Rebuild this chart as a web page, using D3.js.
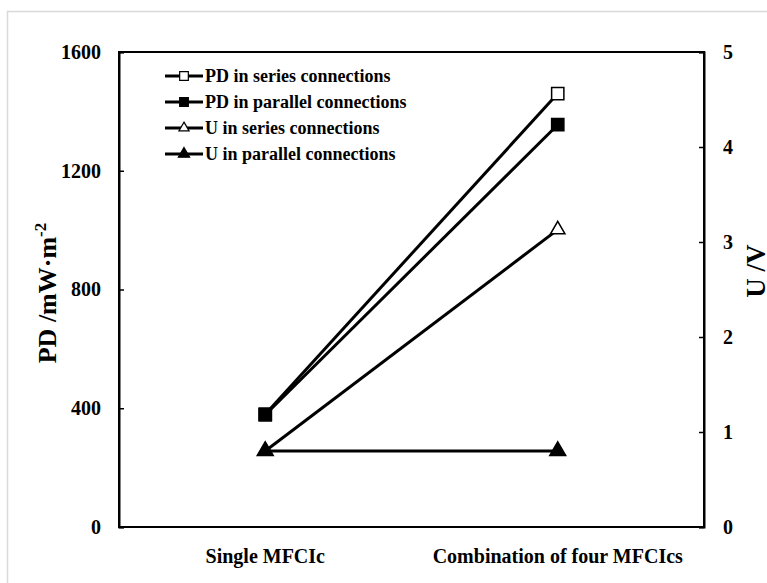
<!DOCTYPE html>
<html>
<head>
<script src="https://cdn.jsdelivr.net/npm/d3@7"></script>
<style>
  body { margin: 0; background: #fff; }
  text { font-family: "Liberation Serif", "Times New Roman", serif; font-weight: bold; }
</style>
</head>
<body>
<div id="viz"></div>
<script>
// data
var categories = ["Single MFCIc", "Combination of four MFCIcs"];
var pdSeries = [380, 1460];
var pdParallel = [378, 1355];
var uSeries = [0.8, 3.13];
var uParallel = [0.8, 0.8];
var leftTicks = [0, 400, 800, 1200, 1600];
var rightTicks = [0, 1, 2, 3, 4, 5];

var W = 767, H = 583;
var pL = 119, pR = 704, pT = 52, pB = 527;

var svg = d3.select("#viz").append("svg")
  .attr("width", W)
  .attr("height", H);

// outer chart frame
svg.append("rect")
  .attr("x", 7.5).attr("y", 11.5)
  .attr("width", W).attr("height", H)
  .style("fill", "none")
  .style("stroke", "#d9d9d9")
  .style("stroke-width", 1.5);

var x = d3.scalePoint().domain(categories).range([pL, pR]).padding(0.5);
var yL = d3.scaleLinear().domain([0, 1600]).range([pB, pT]);
var yR = d3.scaleLinear().domain([0, 5]).range([pB, pT]);

// plot box
svg.append("rect")
  .attr("x", pL).attr("y", pT)
  .attr("width", pR - pL).attr("height", pB - pT)
  .style("fill", "none")
  .style("stroke", "black")
  .style("stroke-width", 2);

var axL = svg.append("g")
  .attr("transform", "translate(" + pL + ",0)")
  .call(d3.axisLeft(yL).tickValues(leftTicks).tickSize(-5).tickPadding(18).tickFormat(d3.format("d")));
var axR = svg.append("g")
  .attr("transform", "translate(" + pR + ",0)")
  .call(d3.axisRight(yR).tickValues(rightTicks).tickSize(-5).tickPadding(19).tickFormat(d3.format("d")));
[axL, axR].forEach(function(a) {
  a.select(".domain").style("stroke", "black").style("stroke-width", 2);
  a.selectAll(".tick line").style("stroke", "black").style("stroke-width", 1.5);
  a.selectAll(".tick text")
    .style("font-family", "Liberation Serif")
    .style("font-weight", "bold")
    .style("font-size", "20px")
    .attr("fill", "black");
});

// category labels
svg.selectAll(".cat").data(categories).enter().append("text")
  .attr("class", "cat")
  .attr("x", function(d) { return x(d); })
  .attr("y", 563)
  .style("text-anchor", "middle")
  .style("font-size", "20px")
  .text(function(d) { return d; });

// axis titles
svg.append("text")
  .attr("transform", "translate(56,293) rotate(-90)")
  .style("text-anchor", "middle")
  .style("font-size", "26px")
  .html('PD /mW\u00b7m<tspan dy="-10" font-size="17px">-2</tspan>');
svg.append("text")
  .attr("transform", "translate(765,271) rotate(-90)")
  .style("text-anchor", "middle")
  .style("font-size", "27px")
  .text("U /V");

var series = [
  { name: "PD in series connections", vals: pdSeries, scale: yL, shape: d3.symbolSquare, fill: "white", size: 150 },
  { name: "PD in parallel connections", vals: pdParallel, scale: yL, shape: d3.symbolSquare, fill: "black", size: 150 },
  { name: "U in series connections", vals: uSeries, scale: yR, shape: d3.symbolTriangle, fill: "white", size: 90 },
  { name: "U in parallel connections", vals: uParallel, scale: yR, shape: d3.symbolTriangle, fill: "black", size: 110 }
];

var line = d3.line();
series.forEach(function(s) {
  var pts = categories.map(function(c, i) { return [x(c), s.scale(s.vals[i])]; });
  svg.append("path")
    .attr("d", line(pts))
    .style("fill", "none")
    .style("stroke", "black")
    .style("stroke-width", 3);
});
series.forEach(function(s) {
  categories.forEach(function(c, i) {
    svg.append("path")
      .attr("d", d3.symbol().type(s.shape).size(s.size)())
      .attr("transform", "translate(" + x(c) + "," + s.scale(s.vals[i]) + ")")
      .style("fill", s.fill)
      .style("stroke", "black")
      .style("stroke-width", 1.5);
  });
});

// legend
var lg = svg.append("g").attr("transform", "translate(165,76)");
series.forEach(function(s, i) {
  var g = lg.append("g").attr("transform", "translate(0," + (i * 26) + ")");
  g.append("line")
    .attr("x1", 0).attr("x2", 38).attr("y1", 0).attr("y2", 0)
    .style("stroke", "black").style("stroke-width", 3);
  g.append("path")
    .attr("d", d3.symbol().type(s.shape).size(s.size * 0.5)())
    .attr("transform", "translate(19,0)")
    .style("fill", s.fill)
    .style("stroke", "black")
    .style("stroke-width", 1.2);
  g.append("text")
    .attr("x", 40).attr("y", 6)
    .style("font-size", "18px")
    .text(s.name);
});
</script>
</body>
</html>
